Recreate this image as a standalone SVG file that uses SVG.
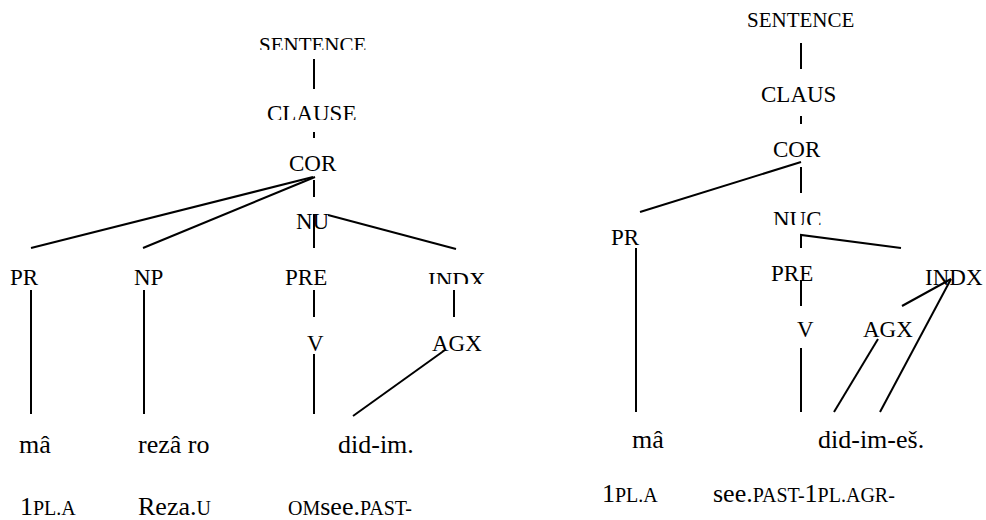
<svg xmlns="http://www.w3.org/2000/svg" width="986" height="520" viewBox="0 0 986 520" font-family="Liberation Serif">
  <defs>
    <clipPath id="cL1"><rect x="240" y="20" width="150" height="30"/></clipPath>
    <clipPath id="cL2"><rect x="240" y="95" width="150" height="25"/></clipPath>
    <clipPath id="cL3"><rect x="410" y="260" width="100" height="24"/></clipPath>
    <clipPath id="cR1"><rect x="760" y="200" width="80" height="25"/></clipPath>
  </defs>

  <g id="edges" stroke="#000" stroke-width="2" fill="none">
    <line x1="314" y1="59" x2="314" y2="89"/>
    <line x1="314" y1="132" x2="314" y2="138"/>
    <line x1="313" y1="177" x2="31" y2="248"/>
    <line x1="315" y1="177" x2="143" y2="248"/>
    <line x1="314" y1="180" x2="314" y2="197"/>
    <line x1="314" y1="214" x2="314" y2="248"/>
    <line x1="328" y1="215" x2="456" y2="249"/>
    <line x1="31" y1="290" x2="31" y2="414"/>
    <line x1="144" y1="290" x2="144" y2="414"/>
    <line x1="314" y1="290" x2="314" y2="317"/>
    <line x1="454" y1="290" x2="454" y2="317"/>
    <line x1="314" y1="354" x2="314" y2="414"/>
    <line x1="445" y1="350" x2="353" y2="416"/>
    <line x1="801" y1="43" x2="801" y2="69"/>
    <line x1="801" y1="116" x2="801" y2="124"/>
    <line x1="801" y1="162" x2="640" y2="212"/>
    <line x1="801" y1="167" x2="801" y2="193"/>
    <polyline points="801,248 801,235 901,248"/>
    <line x1="636" y1="248" x2="636" y2="412"/>
    <line x1="801" y1="280" x2="801" y2="306"/>
    <line x1="801" y1="348" x2="801" y2="412"/>
    <line x1="902" y1="306" x2="951" y2="279"/>
    <line x1="951" y1="279" x2="880" y2="412"/>
    <line x1="878" y1="339" x2="834" y2="412"/>
  </g>

  <g id="L-sentence" font-family="Liberation Serif"><text font-size="21" font-family="Liberation Serif" x="259" y="52" clip-path="url(#cL1)">SENTENCE</text></g>
  <g id="L-clause" font-family="Liberation Serif"><text font-size="23" font-family="Liberation Serif" x="267" y="121" clip-path="url(#cL2)">CLAUSE</text></g>
  <g id="L-cor" font-family="Liberation Serif"><text font-size="23" font-family="Liberation Serif" x="289" y="171">COR</text></g>
  <g id="L-nu" font-family="Liberation Serif"><text font-size="23" font-family="Liberation Serif" x="296" y="229">NU</text></g>
  <g id="L-pr" font-family="Liberation Serif"><text font-size="23" font-family="Liberation Serif" x="10" y="285">PR</text></g>
  <g id="L-np" font-family="Liberation Serif"><text font-size="23" font-family="Liberation Serif" x="134" y="285">NP</text></g>
  <g id="L-pre" font-family="Liberation Serif"><text font-size="23" font-family="Liberation Serif" x="285" y="285">PRE</text></g>
  <g id="L-indx" font-family="Liberation Serif"><text font-size="23" font-family="Liberation Serif" x="428" y="288" clip-path="url(#cL3)">INDX</text></g>
  <g id="L-v" font-family="Liberation Serif"><text font-size="23" font-family="Liberation Serif" x="307" y="351">V</text></g>
  <g id="L-agx" font-family="Liberation Serif"><text font-size="23" font-family="Liberation Serif" x="432" y="351">AGX</text></g>
  <g id="L-ma" font-family="Liberation Serif"><text font-size="26" font-family="Liberation Serif" x="19" y="453">mâ</text></g>
  <g id="L-reza" font-family="Liberation Serif"><text font-size="26" font-family="Liberation Serif" x="138" y="453">rezâ ro</text></g>
  <g id="L-didim" font-family="Liberation Serif"><text font-size="26" font-family="Liberation Serif" x="338" y="453">did-im.</text></g>
  <g id="L-gloss1" font-family="Liberation Serif"><text font-size="26" font-family="Liberation Serif" x="20" y="515">1<tspan font-size="20">PL.A</tspan></text></g>
  <g id="L-gloss2" font-family="Liberation Serif"><text font-size="26" font-family="Liberation Serif" x="138" y="515">Reza.<tspan font-size="20">U</tspan></text></g>
  <g id="L-gloss3" font-family="Liberation Serif"><text font-size="26" font-family="Liberation Serif" x="288" y="515"><tspan font-size="20">OM</tspan>see.<tspan font-size="20">PAST-</tspan></text></g>

  <g id="R-sentence" font-family="Liberation Serif"><text font-size="21" font-family="Liberation Serif" x="747" y="27">SENTENCE</text></g>
  <g id="R-claus" font-family="Liberation Serif"><text font-size="23" font-family="Liberation Serif" x="761" y="102">CLAUS</text></g>
  <g id="R-cor" font-family="Liberation Serif"><text font-size="23" font-family="Liberation Serif" x="773" y="157">COR</text></g>
  <g id="R-nuc" font-family="Liberation Serif"><text font-size="23" font-family="Liberation Serif" x="773" y="227" clip-path="url(#cR1)">NUC</text></g>
  <g id="R-pr" font-family="Liberation Serif"><text font-size="23" font-family="Liberation Serif" x="611" y="245">PR</text></g>
  <g id="R-pre" font-family="Liberation Serif"><text font-size="23" font-family="Liberation Serif" x="771" y="281">PRE</text></g>
  <g id="R-indx" font-family="Liberation Serif"><text font-size="23" font-family="Liberation Serif" x="925" y="285">INDX</text></g>
  <g id="R-v" font-family="Liberation Serif"><text font-size="23" font-family="Liberation Serif" x="797" y="337">V</text></g>
  <g id="R-agx" font-family="Liberation Serif"><text font-size="23" font-family="Liberation Serif" x="863" y="337">AGX</text></g>
  <g id="R-ma" font-family="Liberation Serif"><text font-size="26" font-family="Liberation Serif" x="632" y="448">mâ</text></g>
  <g id="R-didimes" font-family="Liberation Serif"><text font-size="26" font-family="Liberation Serif" x="818" y="448">did-im-eš.</text></g>
  <g id="R-gloss1" font-family="Liberation Serif"><text font-size="26" font-family="Liberation Serif" x="602" y="502">1<tspan font-size="20">PL.A</tspan></text></g>
  <g id="R-gloss2" font-family="Liberation Serif"><text font-size="26" font-family="Liberation Serif" x="713" y="502">see.<tspan font-size="20">PAST-</tspan>1<tspan font-size="20">PL.AGR-</tspan></text></g>
</svg>
